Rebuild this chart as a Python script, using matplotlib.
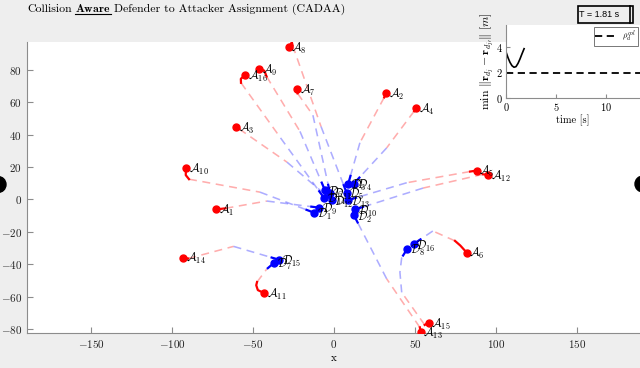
import numpy as np
import matplotlib
matplotlib.use('Agg')
import matplotlib.pyplot as plt
from matplotlib.patches import Circle, Rectangle
from matplotlib.lines import Line2D
from matplotlib.transforms import IdentityTransform

plt.rcParams['mathtext.fontset'] = 'cm'
plt.rcParams['font.family'] = 'cmr10'
plt.rcParams['axes.formatter.use_mathtext'] = True

# attackers A1..A16, current positions
att_x = [-72.8, 32.1, -60.5, 50.6, 88.0, 81.9, -23.0, -28.0, -46.0, -91.4, -43.2, 95.3, 53.5, -93.0, 58.4, -54.7]
att_y = [-6.2, 65.6, 44.5, 56.4, 17.8, -32.8, 68.1, 94.0, 80.6, 19.1, -57.8, 15.2, -82.0, -35.9, -76.1, 76.9]

# defenders D1..D16, current positions
def_x = [-12.3, 12.3, 8.8, 12.3, 7.8, -5.6, -37.0, 45.3, -9.0, 13.0, -2.5, -1.4, 8.8, -6.2, -33.7, 49.2]
def_y = [-8.2, -9.8, 9.7, 9.8, 4.1, 5.7, -39.2, -30.4, -5.1, -6.2, 4.1, -0.4, -0.4, 1.0, -37.3, -27.5]

# defender assigned to each attacker (1-based)
assign = [9, 3, 12, 4, 13, 16, 11, 5, 6, 1, 7, 10, 2, 15, 8, 14]

# short solid horizon of each attacker (after its current position)
att_trail = [
    [(-67.0, -5.5)],
    [(31.0, 63.0)],
    [(-58.5, 43.5)],
    [(49.5, 54.5)],
    [(84.0, 17.2)],
    [(78.0, -28.5), (74.7, -25.6)],
    [(-22.5, 65.5)],
    [(-26.0, 97.0), (-25.5, 95.0)],
    [(-43.0, 79.5), (-41.6, 75.9)],
    [(-91.5, 15.0), (-89.5, 12.5)],
    [(-47.0, -56.0), (-48.0, -53.0), (-47.5, -51.0)],
    [(92.0, 15.5)],
    [(53.0, -79.0)],
    [(-90.0, -36.5)],
    [(56.0, -77.5)],
    [(-57.5, 74.5), (-57.4, 72.0)],
]

# intercept point where the planned path switches from attacker to defender
icp_x = [-41.5, 16.0, -29.0, 32.5, 44.9, 61.0, -13.0, -8.0, -21.0, -45.7, -41.5, 55.0, 32.5, -62.0, 41.8, -33.0]
icp_y = [-1.0, 35.0, 23.0, 31.8, 10.3, -19.5, 52.0, 45.0, 42.0, 4.5, -43.0, 7.0, -49.0, -29.0, -57.4, 38.0]

# extra waypoints on the defender part of the path
def_way = {15: [(40.7, -45.0), (41.8, -36.0)]}

# inset: minimum inter-defender distance
t_s = [0.0, 0.2, 0.4, 0.6, 0.8, 1.0, 1.2, 1.4, 1.6, 1.81]
d_min = [3.6, 3.15, 2.78, 2.52, 2.4, 2.45, 2.7, 3.05, 3.45, 3.85]
rho_col = 1.95
sim_time = 1.81

fig = plt.figure(figsize=(6.4, 3.68), dpi=100, facecolor='#eeeeee')
W, H = 640.0, 368.0
ax = fig.add_axes([27 / W, 1 - 332.7 / H, 613 / W, 290.7 / H])

red_d = (1.0, 0.0, 0.0, 0.32)
blue_d = (0.0, 0.0, 1.0, 0.32)

for i in range(16):
    j = assign[i] - 1
    trail = [(att_x[i], att_y[i])] + att_trail[i]
    red = [trail[-1], (icp_x[i], icp_y[i])]
    blue = [(icp_x[i], icp_y[i])] + def_way.get(i + 1, []) + [(def_x[j], def_y[j])]
    ax.plot([p[0] for p in red], [p[1] for p in red], color=red_d, lw=1.15, dashes=(5, 3.5))
    ax.plot([p[0] for p in blue], [p[1] for p in blue], color=blue_d, lw=1.15, dashes=(5, 3.5))
    ax.plot([p[0] for p in trail], [p[1] for p in trail], color='red', lw=1.6)
    # solid horizon of the defender, towards its previous waypoint
    px, py = blue[-2]
    dx, dy = px - def_x[j], py - def_y[j]
    n = np.hypot(dx, dy)
    ax.plot([def_x[j], def_x[j] + 5 * dx / n], [def_y[j], def_y[j] + 5 * dy / n], color='blue', lw=1.6)

ax.plot(att_x, att_y, 'o', color='red', ms=5, zorder=5)
ax.plot(def_x, def_y, 'o', color='blue', ms=5, zorder=5)
for i in range(16):
    ax.annotate(r'$\mathcal{A}_{%d}$' % (i + 1), (att_x[i], att_y[i]), xytext=(2, -1),
                textcoords='offset points', fontsize=8.5, va='center', ha='left', zorder=6)
    ax.annotate(r'$\mathcal{D}_{%d}$' % (i + 1), (def_x[i], def_y[i]), xytext=(2, -1.5),
                textcoords='offset points', fontsize=8.5, va='center', ha='left', zorder=6)

ax.set_xlim(-189.5, 188.9)
ax.set_ylim(-82.3, 97.2)
ax.set_xticks([-150, -100, -50, 0, 50, 100, 150])
ax.set_yticks([-80, -60, -40, -20, 0, 20, 40, 60, 80])
ax.set_xlabel('x', fontsize=8, labelpad=3)
for s in ['top', 'right']:
    ax.spines[s].set_visible(False)
for s in ['left', 'bottom']:
    ax.spines[s].set_color('#8c8c8c')
ax.tick_params(direction='in', length=4, color='#8c8c8c', labelsize=8, labelcolor='#222222')

# inset
axi = fig.add_axes([506 / W, 1 - 98 / H, 134 / W, 73 / H])
axi.plot(t_s, d_min, 'k-', lw=1.2)
axi.axhline(rho_col, color='k', ls='--', lw=1.3, dashes=(4, 2.5), label=r'$\rho_d^{col}$')
axi.set_xlim(0, 13.4)
axi.set_ylim(0, 5.7)
axi.set_xticks([0, 5, 10])
axi.set_yticks([0, 2, 4])
axi.set_xlabel('time [s]', fontsize=7.5, labelpad=1)
axi.set_ylabel(r'$\min\ \|\mathbf{r}_{d_j}-\mathbf{r}_{d_{j\prime}}\|\ [m]$', fontsize=8.5, labelpad=0)
for s in ['top', 'right']:
    axi.spines[s].set_visible(False)
for s in ['left', 'bottom']:
    axi.spines[s].set_color('#8c8c8c')
axi.tick_params(direction='in', length=3, color='#8c8c8c', labelsize=7.5, pad=2)
leg = axi.legend(loc='upper right', fontsize=6, handlelength=2.4, borderpad=0.2,
                 fancybox=False, framealpha=1, borderaxespad=0.3)
leg.get_frame().set_edgecolor('#777777')
leg.get_frame().set_linewidth(0.7)

# title with bold underlined word
t1 = fig.text(27 / W, 1 - 12 / H, 'Collision', fontsize=8.5, va='baseline')
fig.canvas.draw()
r = fig.canvas.get_renderer()
bb = t1.get_window_extent(r)
t2 = fig.text((bb.x1 + 3.5) / W, 1 - 12 / H, r'$\mathbf{Aware}$', fontsize=8.5, va='baseline')
bb2 = t2.get_window_extent(r)
fig.lines.append(Line2D([bb2.x0 / W, bb2.x1 / W], [(H - 14) / H] * 2, color='k', lw=0.8,
                        transform=fig.transFigure, figure=fig))
fig.text((bb2.x1 + 3.5) / W, 1 - 12 / H, 'Defender to Attacker Assignment (CADAA)',
         fontsize=8.5, va='baseline')

# time box
fig.patches.append(Rectangle((578 / W, 1 - 22.7 / H), 54.7 / W, 16.7 / H, fill=False,
                             edgecolor='k', lw=1.2, transform=fig.transFigure, figure=fig))
fig.lines.append(Line2D([630 / W] * 2, [1 - 22.7 / H, 1 - 6 / H], color='k', lw=1.2,
                        transform=fig.transFigure, figure=fig))
fig.text(599 / W, 1 - 14.5 / H, 'T = %.2f s' % sim_time, fontsize=6.5, ha='center', va='center',
         family='Liberation Sans')

# round markers at the picture edges
for cx, cy in [(-2, 183.5), (643, 184)]:
    fig.patches.append(Circle((cx, cy), 8, color='k', transform=IdentityTransform(), figure=fig))

fig.savefig('out.png', dpi=100, facecolor=fig.get_facecolor())
